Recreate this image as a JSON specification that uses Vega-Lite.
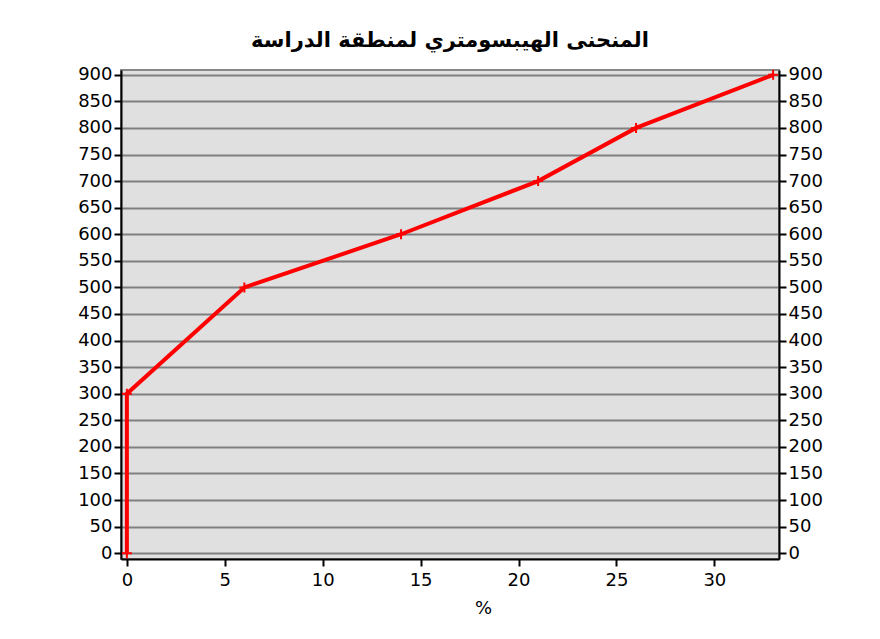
{
  "$schema": "https://vega.github.io/schema/vega-lite/v6.json",
  "width": 658,
  "height": 489,
  "autosize": {"type": "none"},
  "padding": {"left": 121, "top": 70, "right": 101, "bottom": 80},
  "background": "white",
  "title": {
    "text": "المنحنى الهيبسومتري لمنطقة الدراسة",
    "font": "DejaVu Sans",
    "fontSize": 21,
    "fontWeight": "bold",
    "color": "black",
    "anchor": "middle",
    "offset": 15
  },
  "config": {
    "view": {"fill": "#e0e0e0", "stroke": "#888888", "strokeWidth": 2},
    "axis": {
      "labelFont": "DejaVu Sans",
      "labelFontSize": 18,
      "labelColor": "black",
      "titleFont": "DejaVu Sans",
      "titleFontSize": 18,
      "titleFontWeight": "normal",
      "titleColor": "black",
      "domainColor": "black",
      "domainWidth": 2,
      "tickColor": "black",
      "tickWidth": 2,
      "tickSize": 7,
      "labelPadding": 2
    }
  },
  "data": {
    "values": [
      {"pct": 0, "elev": 0},
      {"pct": 0, "elev": 300},
      {"pct": 6, "elev": 500},
      {"pct": 14, "elev": 600},
      {"pct": 21, "elev": 700},
      {"pct": 26, "elev": 800},
      {"pct": 33, "elev": 900}
    ]
  },
  "encoding": {
    "x": {
      "field": "pct",
      "type": "quantitative",
      "scale": {"domain": [-0.3, 33.3], "nice": false, "zero": false},
      "axis": {
        "title": "%",
        "values": [0, 5, 10, 15, 20, 25, 30],
        "grid": false,
        "labelPadding": 5,
        "titlePadding": 10,
        "titleX": 362
      }
    }
  },
  "layer": [
    {
      "mark": {"type": "line", "color": "#ff0000", "strokeWidth": 4},
      "encoding": {
        "y": {
          "field": "elev",
          "type": "quantitative",
          "scale": {"domain": [-11, 909], "nice": false, "zero": false},
          "axis": {
            "orient": "left",
            "title": null,
            "values": [0, 50, 100, 150, 200, 250, 300, 350, 400, 450, 500, 550, 600, 650, 700, 750, 800, 850, 900],
            "grid": true,
            "gridColor": "#808080",
            "gridWidth": 2,
            "gridOpacity": 1
          }
        },
        "order": {"field": "elev"}
      }
    },
    {
      "mark": {
        "type": "point",
        "shape": "M-1,0L1,0M0,-1L0,1",
        "size": 100,
        "stroke": "#ff0000",
        "strokeWidth": 2,
        "filled": false,
        "opacity": 1
      },
      "encoding": {
        "y": {
          "field": "elev",
          "type": "quantitative",
          "scale": {"domain": [-11, 909], "nice": false, "zero": false},
          "axis": {
            "orient": "right",
            "title": null,
            "values": [0, 50, 100, 150, 200, 250, 300, 350, 400, 450, 500, 550, 600, 650, 700, 750, 800, 850, 900],
            "grid": false
          }
        }
      }
    }
  ],
  "resolve": {"scale": {"y": "independent"}}
}
